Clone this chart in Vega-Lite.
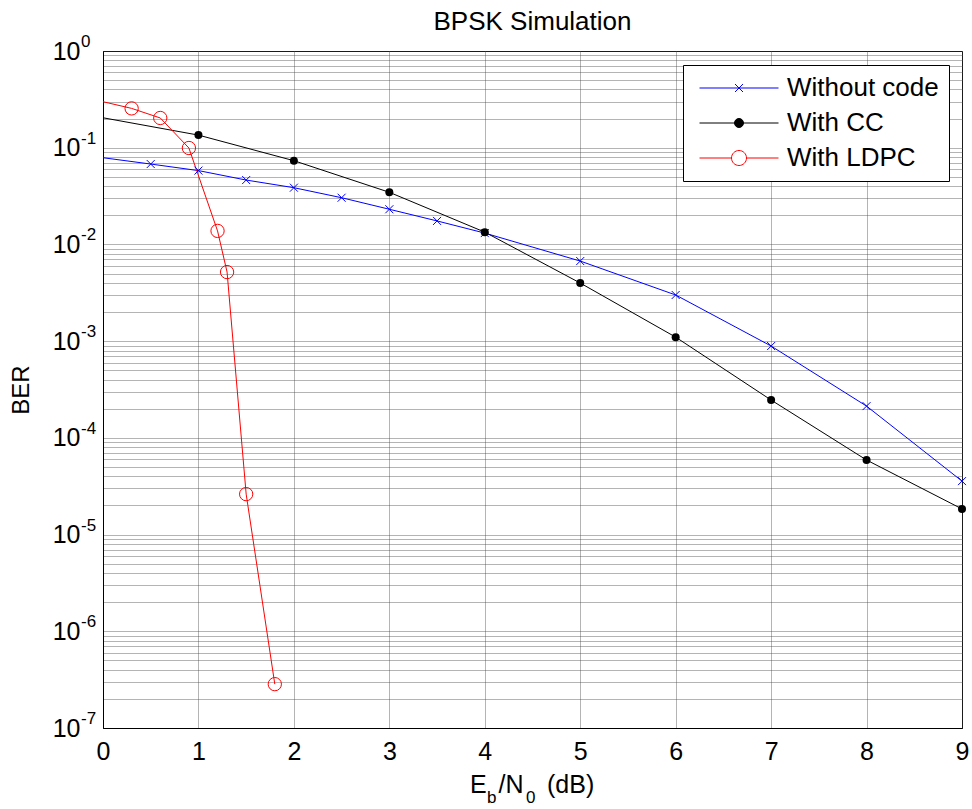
{
  "$schema": "https://vega.github.io/schema/vega-lite/v6.json",
  "width": 859,
  "height": 677,
  "autosize": {"type": "none"},
  "padding": {"left": 103, "top": 51, "right": 10, "bottom": 81},
  "background": "white",
  "config": {
    "font": "Liberation Sans",
    "view": {"stroke": "black", "strokeWidth": 1}
  },
  "title": {"text": "BPSK Simulation", "fontSize": 26, "fontWeight": "normal", "offset": 8, "dy": 10, "color": "black", "anchor": "middle"},
  "datasets": {
    "ber": [
      {"series": "Without code", "ebn0": 0, "ber": 0.0788, "marker": false},
      {"series": "Without code", "ebn0": 0.5, "ber": 0.0678, "marker": true},
      {"series": "Without code", "ebn0": 1, "ber": 0.058, "marker": true},
      {"series": "Without code", "ebn0": 1.5, "ber": 0.0463, "marker": true},
      {"series": "Without code", "ebn0": 2, "ber": 0.0386, "marker": true},
      {"series": "Without code", "ebn0": 2.5, "ber": 0.0304, "marker": true},
      {"series": "Without code", "ebn0": 3, "ber": 0.0231, "marker": true},
      {"series": "Without code", "ebn0": 3.5, "ber": 0.0175, "marker": true},
      {"series": "Without code", "ebn0": 4, "ber": 0.0131, "marker": true},
      {"series": "Without code", "ebn0": 5, "ber": 0.00673, "marker": true},
      {"series": "Without code", "ebn0": 6, "ber": 0.0030, "marker": true},
      {"series": "Without code", "ebn0": 7, "ber": 0.00089, "marker": true},
      {"series": "Without code", "ebn0": 8, "ber": 0.000213, "marker": true},
      {"series": "Without code", "ebn0": 9, "ber": 0.0000357, "marker": true},
      {"series": "With CC", "ebn0": 0, "ber": 0.204, "marker": false},
      {"series": "With CC", "ebn0": 1, "ber": 0.135, "marker": true},
      {"series": "With CC", "ebn0": 2, "ber": 0.0734, "marker": true},
      {"series": "With CC", "ebn0": 3, "ber": 0.0346, "marker": true},
      {"series": "With CC", "ebn0": 4, "ber": 0.0134, "marker": true},
      {"series": "With CC", "ebn0": 5, "ber": 0.00399, "marker": true},
      {"series": "With CC", "ebn0": 6, "ber": 0.0011, "marker": true},
      {"series": "With CC", "ebn0": 7, "ber": 0.000246, "marker": true},
      {"series": "With CC", "ebn0": 8, "ber": 0.000059, "marker": true},
      {"series": "With CC", "ebn0": 9, "ber": 0.0000184, "marker": true},
      {"series": "With LDPC", "ebn0": 0, "ber": 0.299, "marker": false},
      {"series": "With LDPC", "ebn0": 0.3, "ber": 0.255, "marker": true},
      {"series": "With LDPC", "ebn0": 0.6, "ber": 0.203, "marker": true},
      {"series": "With LDPC", "ebn0": 0.9, "ber": 0.0993, "marker": true},
      {"series": "With LDPC", "ebn0": 1.2, "ber": 0.0138, "marker": true},
      {"series": "With LDPC", "ebn0": 1.3, "ber": 0.00518, "marker": true},
      {"series": "With LDPC", "ebn0": 1.5, "ber": 0.0000262, "marker": true},
      {"series": "With LDPC", "ebn0": 1.8, "ber": 0.000000284, "marker": true}
    ],
    "exps": [
      {"p": 1, "e": "0"},
      {"p": 0.1, "e": "-1"},
      {"p": 0.01, "e": "-2"},
      {"p": 0.001, "e": "-3"},
      {"p": 0.0001, "e": "-4"},
      {"p": 0.00001, "e": "-5"},
      {"p": 0.000001, "e": "-6"},
      {"p": 0.0000001, "e": "-7"}
    ]
  },
  "data": {"name": "ber"},
  "layer": [
    {
      "mark": {"type": "line", "strokeWidth": 1, "clip": true},
      "encoding": {
        "x": {
          "field": "ebn0", "type": "quantitative",
          "scale": {"domain": [0, 9], "nice": false, "zero": false},
          "axis": {
            "title": null,
            "values": [0, 1, 2, 3, 4, 5, 6, 7, 8, 9],
            "format": "d",
            "labelFontSize": 25, "labelColor": "black", "labelPadding": 11,
            "labelFlush": false, "labelOverlap": false,
            "ticks": false, "tickSize": 0,
            "domain": true, "domainColor": "black", "domainWidth": 1,
            "grid": true, "gridColor": "#444444", "gridDash": [1, 1], "gridWidth": 1, "gridOpacity": 0.8
          }
        },
        "y": {
          "field": "ber", "type": "quantitative",
          "scale": {"type": "log", "domain": [0.0000001, 1], "nice": false},
          "axis": {
            "title": "BER", "titleFontSize": 24, "titleFontWeight": "normal", "titleColor": "black", "titlePadding": 19,
            "values": [1e-7, 2e-7, 3e-7, 4e-7, 5e-7, 6e-7, 7e-7, 8e-7, 9e-7,
                       1e-6, 2e-6, 3e-6, 4e-6, 5e-6, 6e-6, 7e-6, 8e-6, 9e-6,
                       1e-5, 2e-5, 3e-5, 4e-5, 5e-5, 6e-5, 7e-5, 8e-5, 9e-5,
                       1e-4, 2e-4, 3e-4, 4e-4, 5e-4, 6e-4, 7e-4, 8e-4, 9e-4,
                       1e-3, 2e-3, 3e-3, 4e-3, 5e-3, 6e-3, 7e-3, 8e-3, 9e-3,
                       1e-2, 2e-2, 3e-2, 4e-2, 5e-2, 6e-2, 7e-2, 8e-2, 9e-2,
                       1e-1, 2e-1, 3e-1, 4e-1, 5e-1, 6e-1, 7e-1, 8e-1, 9e-1, 1],
            "labelExpr": "abs(log(datum.value)/LN10 - round(log(datum.value)/LN10)) < 0.000001 ? '10' : ''",
            "labelFontSize": 25, "labelColor": "black", "labelPadding": 23,
            "labelFlush": false, "labelOverlap": false,
            "ticks": false, "tickSize": 0,
            "domain": true, "domainColor": "black", "domainWidth": 1,
            "grid": true, "gridColor": "#444444", "gridDash": [1, 1], "gridWidth": 1, "gridOpacity": 0.8
          }
        },
        "color": {
          "field": "series", "type": "nominal",
          "scale": {"domain": ["Without code", "With CC", "With LDPC"], "range": ["#0000ff", "#000000", "#ff0000"]},
          "legend": {
            "orient": "none", "legendX": 580, "legendY": 14,
            "title": null,
            "labelFontSize": 26, "labelColor": "black",
            "fillColor": "white", "strokeColor": "black",
            "padding": 10, "cornerRadius": 0,
            "symbolSize": 100, "symbolOffset": 33, "labelOffset": 35, "rowPadding": 9,
            "symbolStrokeWidth": 1,
            "encode": {
              "symbols": {
                "update": {
                  "shape": {"signal": "datum.value === 'Without code' ? 'M-7.9,0H7.9M-0.8,-0.8L0.8,0.8M-0.8,0.8L0.8,-0.8' : datum.value === 'With CC' ? 'M-7.9,0H7.9M0.9,0A0.9,0.9,0,1,1,-0.9,0A0.9,0.9,0,1,1,0.9,0Z' : 'M-7.9,0H-1.5M1.5,0H7.9M1.5,0A1.5,1.5,0,1,1,-1.5,0A1.5,1.5,0,1,1,1.5,0Z'"},
                  "stroke": {"signal": "datum.value === 'Without code' ? '#0000ff' : datum.value === 'With CC' ? '#000000' : '#ff0000'"},
                  "fill": {"signal": "datum.value === 'With CC' ? '#000000' : 'transparent'"}
                }
              }
            }
          }
        }
      }
    },
    {
      "transform": [{"filter": "datum.series === 'Without code' && datum.marker"}],
      "mark": {"type": "point", "shape": "M-1,-1L1,1M-1,1L1,-1", "size": 64, "color": "#0000ff", "filled": false, "strokeWidth": 1, "opacity": 1},
      "encoding": {
        "x": {"field": "ebn0", "type": "quantitative"},
        "y": {"field": "ber", "type": "quantitative"}
      }
    },
    {
      "transform": [{"filter": "datum.series === 'With CC' && datum.marker"}],
      "mark": {"type": "point", "shape": "circle", "size": 64, "color": "#000000", "filled": true, "opacity": 1},
      "encoding": {
        "x": {"field": "ebn0", "type": "quantitative"},
        "y": {"field": "ber", "type": "quantitative"}
      }
    },
    {
      "transform": [{"filter": "datum.series === 'With LDPC' && datum.marker"}],
      "mark": {"type": "point", "shape": "circle", "size": 177, "color": "#ff0000", "filled": false, "strokeWidth": 1, "opacity": 1},
      "encoding": {
        "x": {"field": "ebn0", "type": "quantitative"},
        "y": {"field": "ber", "type": "quantitative"}
      }
    },
    {
      "data": {"name": "exps"},
      "mark": {"type": "text", "align": "left", "baseline": "alphabetic", "dx": -22, "dy": -4, "fontSize": 17, "color": "black"},
      "encoding": {
        "x": {"datum": 0, "type": "quantitative"},
        "y": {"field": "p", "type": "quantitative"},
        "text": {"field": "e"}
      }
    },
    {
      "data": {"values": [{}]},
      "mark": {"type": "text", "text": "E", "align": "left", "baseline": "alphabetic", "dx": -62.5, "dy": 65, "fontSize": 25, "color": "black"},
      "encoding": {"x": {"datum": 4.5, "type": "quantitative"}, "y": {"datum": 0.0000001, "type": "quantitative"}}
    },
    {
      "data": {"values": [{}]},
      "mark": {"type": "text", "text": "b", "align": "left", "baseline": "alphabetic", "dx": -45.5, "dy": 75, "fontSize": 17, "color": "black"},
      "encoding": {"x": {"datum": 4.5, "type": "quantitative"}, "y": {"datum": 0.0000001, "type": "quantitative"}}
    },
    {
      "data": {"values": [{}]},
      "mark": {"type": "text", "text": "/N", "align": "left", "baseline": "alphabetic", "dx": -34, "dy": 65, "fontSize": 25, "color": "black"},
      "encoding": {"x": {"datum": 4.5, "type": "quantitative"}, "y": {"datum": 0.0000001, "type": "quantitative"}}
    },
    {
      "data": {"values": [{}]},
      "mark": {"type": "text", "text": "0", "align": "left", "baseline": "alphabetic", "dx": -6.5, "dy": 75, "fontSize": 17, "color": "black"},
      "encoding": {"x": {"datum": 4.5, "type": "quantitative"}, "y": {"datum": 0.0000001, "type": "quantitative"}}
    },
    {
      "data": {"values": [{}]},
      "mark": {"type": "text", "text": "(dB)", "align": "left", "baseline": "alphabetic", "dx": 14.5, "dy": 65, "fontSize": 25, "color": "black"},
      "encoding": {"x": {"datum": 4.5, "type": "quantitative"}, "y": {"datum": 0.0000001, "type": "quantitative"}}
    }
  ]
}
